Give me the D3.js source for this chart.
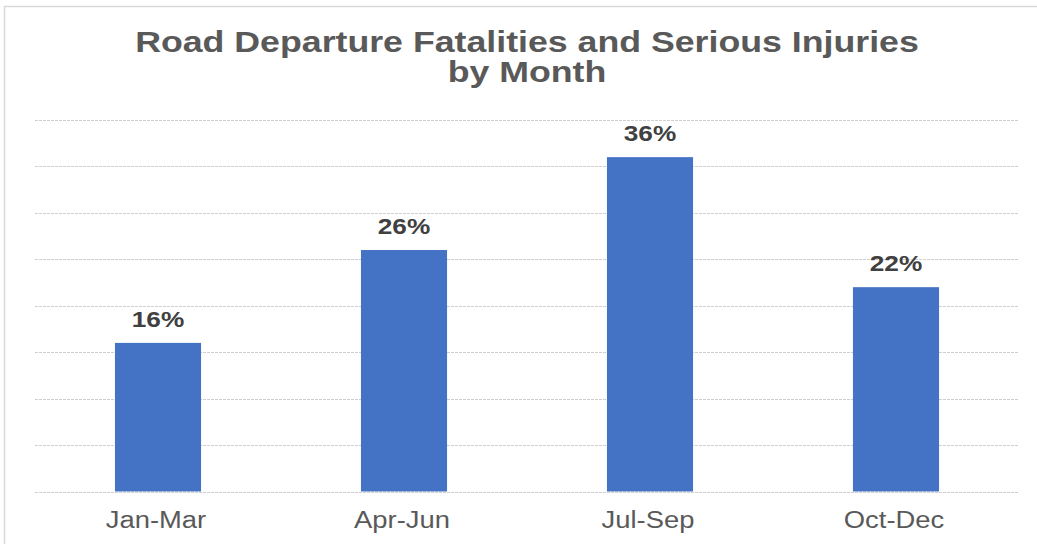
<!DOCTYPE html>
<html>
<head>
<meta charset="utf-8">
<script src="https://cdn.jsdelivr.net/npm/d3@7"></script>
<style>
  body { margin: 0; background: #fff; }
  svg { display: block; }
</style>
</head>
<body>
<div id="chart"></div>
<script>
const categories = ["Jan-Mar", "Apr-Jun", "Jul-Sep", "Oct-Dec"];
const values = [16, 26, 36, 22];
const titleLines = ["Road Departure Fatalities and Serious Injuries", "by Month"];
const yTicks = [0, 5, 10, 15, 20, 25, 30, 35, 40];

const width = 1037, height = 544;
const stretch = 1.19; // text in the picture is a bit wider than normal

const svg = d3.select("#chart").append("svg")
    .attr("width", width)
    .attr("height", height);

// chart frame
svg.append("rect")
    .attr("x", 4.5)
    .attr("y", 6.5)
    .attr("width", 1050)
    .attr("height", 560)
    .attr("fill", "#fff")
    .attr("stroke", "#d9d9d9")
    .attr("stroke-width", 1.5);

const x = d3.scaleBand()
    .domain(categories)
    .range([35, 1019])
    .paddingInner(0.65)
    .paddingOuter(0.325);

const y = d3.scaleLinear()
    .domain([0, 40])
    .range([491.5, 120]);

function widen(sel) {
    sel.each(function () {
        const w = this.getComputedTextLength();
        d3.select(this).attr("textLength", w * stretch).attr("lengthAdjust", "spacingAndGlyphs");
    });
}

// gridlines
svg.append("g")
    .selectAll("line")
    .data(yTicks)
    .enter().append("line")
    .attr("x1", 35)
    .attr("x2", 1019)
    .attr("y1", d => Math.round(y(d)) + 0.5)
    .attr("y2", d => Math.round(y(d)) + 0.5)
    .attr("stroke", "#cfcfcf")
    .attr("stroke-width", 1)
    .attr("stroke-dasharray", "3,1");

// bars
svg.append("g")
    .selectAll("rect")
    .data(values)
    .enter().append("rect")
    .attr("x", (d, i) => x(categories[i]))
    .attr("y", d => y(d))
    .attr("width", x.bandwidth())
    .attr("height", d => y(0) - y(d))
    .attr("fill", "#4472c4");

// data labels
svg.append("g")
    .selectAll("text")
    .data(values)
    .enter().append("text")
    .attr("x", (d, i) => x(categories[i]) + x.bandwidth() / 2)
    .attr("y", d => y(d) - 16)
    .attr("text-anchor", "middle")
    .style("font-family", "Liberation Sans, Arial, sans-serif")
    .style("font-size", "22px")
    .style("font-weight", "bold")
    .style("fill", "#404040")
    .text(d => d + "%")
    .call(widen);

// category labels
svg.append("g")
    .selectAll("text")
    .data(categories)
    .enter().append("text")
    .attr("x", d => x(d) + x.bandwidth() / 2 - 2)
    .attr("y", 528)
    .attr("text-anchor", "middle")
    .style("font-family", "Liberation Sans, Arial, sans-serif")
    .style("font-size", "23px")
    .style("fill", "#595959")
    .text(d => d)
    .call(widen);

// title
svg.append("g")
    .selectAll("text")
    .data(titleLines)
    .enter().append("text")
    .attr("x", 527)
    .attr("y", (d, i) => 52 + i * 30)
    .attr("text-anchor", "middle")
    .style("font-family", "Liberation Sans, Arial, sans-serif")
    .style("font-size", "30px")
    .style("font-weight", "bold")
    .style("fill", "#595959")
    .text(d => d)
    .call(widen);
</script>
</body>
</html>
